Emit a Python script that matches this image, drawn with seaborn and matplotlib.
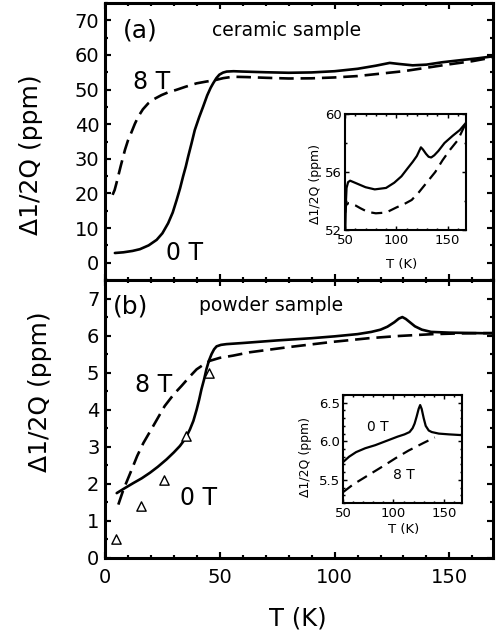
import numpy as np
import pandas as pd
import matplotlib
matplotlib.use("Agg")
import matplotlib.pyplot as plt
import seaborn as sns
from matplotlib.ticker import MultipleLocator, FormatStrFormatter

# ---- data ----
# (a) ceramic sample, main panel
a_T_0T = [4.3, 8, 12, 15.2, 19, 22.5, 25, 27.5, 29.5, 31.2, 32.7, 34, 35.2, 36.2, 37.7, 39.1,
          41, 42.7, 44.5, 46, 47.1, 48.5, 49.8, 51.4, 53, 56, 60, 70, 80, 90, 100, 110, 118,
          124, 128, 134, 140, 147, 155, 162, 169]
a_y_0T = [2.8, 3.0, 3.4, 3.9, 5.0, 6.6, 8.5, 11.4, 14.5, 18.1, 21.5, 24.9, 27.8, 30.6, 34.5, 38.3,
          42, 45, 48.3, 50.5, 51.8, 53.3, 54.3, 54.9, 55.2, 55.3, 55.2, 55.0, 54.85, 54.95, 55.3, 56.0, 56.9,
          57.7, 57.4, 57.0, 57.2, 57.9, 58.5, 59.0, 59.6]
a_T_8T = [3.3, 4.2, 5, 6.8, 8.7, 10, 11.6, 13, 14.5, 16.5, 18.8, 21.5, 24.6, 27.5, 31, 35, 39.9,
          44, 47.8, 51.5, 55.7, 62, 70, 80, 90, 100, 110, 120, 130, 140, 150, 160, 169]
a_y_8T = [19.6, 21, 23, 27.8, 32.6, 35.3, 37.8, 40.1, 42.2, 44.3, 46, 47.3, 48.4, 49.2, 49.9, 50.8, 51.8,
          52.3, 52.7, 53.3, 53.7, 53.6, 53.4, 53.2, 53.25, 53.5, 53.9, 54.6, 55.3, 56.3, 57.3, 58.2, 59.3]

# (a) inset
ia_T_0T = [50.3, 50.8, 51.5, 53, 55, 60, 65, 70, 79, 90, 98, 105, 111, 116, 120, 124, 126, 129,
           131.5, 134, 137, 141, 147, 155, 162, 168]
ia_y_0T = [52.0, 53.8, 54.9, 55.3, 55.4, 55.25, 55.1, 54.95, 54.8, 54.9, 55.26, 55.7, 56.25, 56.7, 57.1,
           57.7, 57.55, 57.25, 57.05, 57.0, 57.15, 57.45, 58.0, 58.5, 58.9, 59.4]
ia_T_8T = [50.3, 51, 53, 55, 60, 65, 72, 80, 90, 100, 108, 115, 122, 130, 138, 145, 152, 160, 168]
ia_y_8T = [53.2, 53.7, 53.85, 53.85, 53.7, 53.5, 53.25, 53.15, 53.2, 53.55, 53.8, 54.07, 54.6, 55.3,
           56.0, 56.8, 57.5, 58.2, 59.4]

# (b) powder sample, main panel
b_T_0T = [5.1, 8.5, 12.3, 16, 19.6, 23, 26.8, 30, 32.6, 35, 37, 38.5, 39.9, 41, 42, 43.2, 44.2,
          45.3, 46.4, 47.5, 48.6, 50.5, 52.9, 60, 75, 90, 100, 110, 116, 120, 123, 126, 128,
          129.5, 131, 133, 135, 138, 142, 150, 160, 169]
b_y_0T = [1.75, 1.88, 2.02, 2.15, 2.3, 2.46, 2.66, 2.85, 3.02, 3.22, 3.47, 3.7, 4.0, 4.27, 4.55, 4.83, 5.1,
          5.33, 5.5, 5.63, 5.71, 5.75, 5.77, 5.8, 5.87, 5.93, 5.98, 6.04, 6.1, 6.16, 6.24, 6.36, 6.46,
          6.5, 6.45, 6.35, 6.25, 6.16, 6.1, 6.08, 6.07, 6.06]
b_T_8T = [5.8, 8, 11.6, 14, 16.7, 21, 26, 30, 33.3, 37, 39.9, 43, 45.7, 50, 55.8, 63, 80, 99,
          115, 128, 143, 155, 169]
b_y_8T = [1.44, 1.84, 2.38, 2.75, 3.1, 3.56, 4.1, 4.42, 4.64, 4.9, 5.09, 5.22, 5.32, 5.4, 5.46, 5.55,
          5.69, 5.83, 5.93, 5.99, 6.04, 6.06, 6.07]
b_T_tri = [5, 15.5, 25.5, 35.2, 45.5]
b_y_tri = [0.5, 1.39, 2.11, 3.3, 4.98]

# (b) inset
ib_T_0T = [50, 56, 63, 72, 82, 94, 104, 111, 116, 119, 121, 123, 125, 126.5, 128, 130, 132, 135,
           138, 145, 155, 168]
ib_y_0T = [5.73, 5.80, 5.86, 5.91, 5.95, 6.01, 6.06, 6.09, 6.12, 6.17, 6.23, 6.32, 6.42, 6.47, 6.42,
           6.3, 6.2, 6.14, 6.12, 6.1, 6.09, 6.08]
ib_T_8T = [50, 60, 75, 90, 102, 115, 130, 141]
ib_y_8T = [5.34, 5.44, 5.56, 5.68, 5.78, 5.88, 5.98, 6.05]

ylab = "\u03941/2Q (ppm)"

sns.set_style("ticks")
plt.rcParams['font.family'] = ['DejaVu Sans']
for key in ['axes.edgecolor', 'text.color', 'axes.labelcolor', 'xtick.color', 'ytick.color']:
    plt.rcParams[key] = 'black'

fig = plt.figure(figsize=(4.96, 6.39), dpi=100)
ax_a = fig.add_axes([0.2117, 0.5618, 0.7823, 0.4335])
ax_b = fig.add_axes([0.2117, 0.1268, 0.7823, 0.435])
ins_a = fig.add_axes([0.6956, 0.6401, 0.244, 0.1815])
ins_b = fig.add_axes([0.6915, 0.2128, 0.24, 0.169])

dash_main = (0, (5.5, 2.6))
dash_ins = (0, (5, 3))


def line(ax, x, y, lw, ls='-'):
    sns.lineplot(x=x, y=y, ax=ax, color='black', lw=lw, linestyle=ls,
                 estimator=None, sort=False)


def style_axes(ax, spine_w, maj, mnr, size, pad):
    for s in ax.spines.values():
        s.set_linewidth(spine_w)
        s.set_color('black')
    ax.tick_params(which='both', direction='in', top=True, right=True, colors='black',
                   width=spine_w * 0.7, labelsize=size, pad=pad)
    ax.tick_params(which='major', length=maj)
    ax.tick_params(which='minor', length=mnr)


# panel (a)
line(ax_a, a_T_0T, a_y_0T, 1.9)
line(ax_a, a_T_8T, a_y_8T, 1.9, dash_main)
ax_a.set_xlim(0, 169)
ax_a.xaxis.set_major_locator(MultipleLocator(50))
ax_a.xaxis.set_minor_locator(MultipleLocator(10))
ax_a.yaxis.set_major_locator(MultipleLocator(10))
ax_a.yaxis.set_minor_locator(MultipleLocator(5))
style_axes(ax_a, 2.2, 4.5, 2.5, 14, 4)
ax_a.tick_params(labelbottom=False)
ax_a.set_yticks([0, 10, 20, 30, 40, 50, 60, 70])
ax_a.set_ylim(-5, 75)
ax_a.set_ylabel(ylab, fontsize=18)
ax_a.yaxis.set_label_coords(-0.16, 0.451)
ax_a.set_xlabel('')
ax_a.text(0.092, 0.9025, '(a)', transform=ax_a.transAxes, fontsize=18, ha='center', va='center')
ax_a.text(0.469, 0.899, 'ceramic sample', transform=ax_a.transAxes, fontsize=13.5,
          ha='center', va='center')
ax_a.text(0.119, 0.715, '8 T', transform=ax_a.transAxes, fontsize=17, ha='center', va='center')
ax_a.text(0.206, 0.099, '0 T', transform=ax_a.transAxes, fontsize=17, ha='center', va='center')

# panel (b)
line(ax_b, b_T_0T, b_y_0T, 1.9)
line(ax_b, b_T_8T, b_y_8T, 1.9, dash_main)
sns.scatterplot(x=b_T_tri, y=b_y_tri, ax=ax_b, marker='^', s=45, facecolor='white',
                edgecolor='black', linewidth=1.0, zorder=3)
ax_b.set_xlim(0, 169)
ax_b.set_ylim(0, 7.5)
ax_b.xaxis.set_major_locator(MultipleLocator(50))
ax_b.xaxis.set_minor_locator(MultipleLocator(10))
ax_b.yaxis.set_major_locator(MultipleLocator(1))
ax_b.yaxis.set_minor_locator(MultipleLocator(0.5))
style_axes(ax_b, 2.2, 4.5, 2.5, 14, 4)
ax_b.tick_params(axis='x', pad=7)
ax_b.set_ylabel(ylab, fontsize=18)
ax_b.yaxis.set_label_coords(-0.137, 0.597)
ax_b.set_xlabel('T (K)', fontsize=17.5)
ax_b.xaxis.set_label_coords(0.496, -0.176)
ax_b.text(0.067, 0.906, '(b)', transform=ax_b.transAxes, fontsize=18, ha='center', va='center')
ax_b.text(0.428, 0.91, 'powder sample', transform=ax_b.transAxes, fontsize=13.5,
          ha='center', va='center')
ax_b.text(0.126, 0.622, '8 T', transform=ax_b.transAxes, fontsize=17, ha='center', va='center')
ax_b.text(0.24, 0.216, '0 T', transform=ax_b.transAxes, fontsize=17, ha='center', va='center')

# inset (a)
line(ins_a, ia_T_0T, ia_y_0T, 1.6)
line(ins_a, ia_T_8T, ia_y_8T, 1.6, dash_ins)
ins_a.set_xlim(50, 168)
ins_a.set_ylim(52, 60)
ins_a.xaxis.set_major_locator(MultipleLocator(50))
ins_a.xaxis.set_minor_locator(MultipleLocator(10))
ins_a.yaxis.set_major_locator(MultipleLocator(4))
ins_a.yaxis.set_minor_locator(MultipleLocator(2))
style_axes(ins_a, 1.5, 3, 1.5, 9.5, 2)
ins_a.tick_params(axis='x', pad=3)
ins_a.set_ylabel(ylab, fontsize=9)
ins_a.yaxis.set_label_coords(-0.19, 0.40)
ins_a.set_xlabel('T (K)', fontsize=9.5)
ins_a.xaxis.set_label_coords(0.47, -0.24)

# inset (b)
line(ins_b, ib_T_0T, ib_y_0T, 1.6)
line(ins_b, ib_T_8T, ib_y_8T, 1.6, dash_ins)
ins_b.set_xlim(50, 168)
ins_b.set_ylim(5.2, 6.6)
ins_b.xaxis.set_major_locator(MultipleLocator(50))
ins_b.xaxis.set_minor_locator(MultipleLocator(10))
ins_b.yaxis.set_major_locator(MultipleLocator(0.5))
ins_b.yaxis.set_minor_locator(MultipleLocator(0.1))
ins_b.yaxis.set_major_formatter(FormatStrFormatter('%.1f'))
style_axes(ins_b, 1.5, 3, 1.5, 9.5, 2)
ins_b.tick_params(axis='x', pad=3)
ins_b.set_ylabel(ylab, fontsize=9)
ins_b.yaxis.set_label_coords(-0.26, 0.426)
ins_b.set_xlabel('T (K)', fontsize=9.5)
ins_b.xaxis.set_label_coords(0.51, -0.185)
ins_b.text(0.29, 0.70, '0 T', transform=ins_b.transAxes, fontsize=10, ha='center', va='center')
ins_b.text(0.513, 0.26, '8 T', transform=ins_b.transAxes, fontsize=10, ha='center', va='center')

fig.savefig('out.png', dpi=100)
